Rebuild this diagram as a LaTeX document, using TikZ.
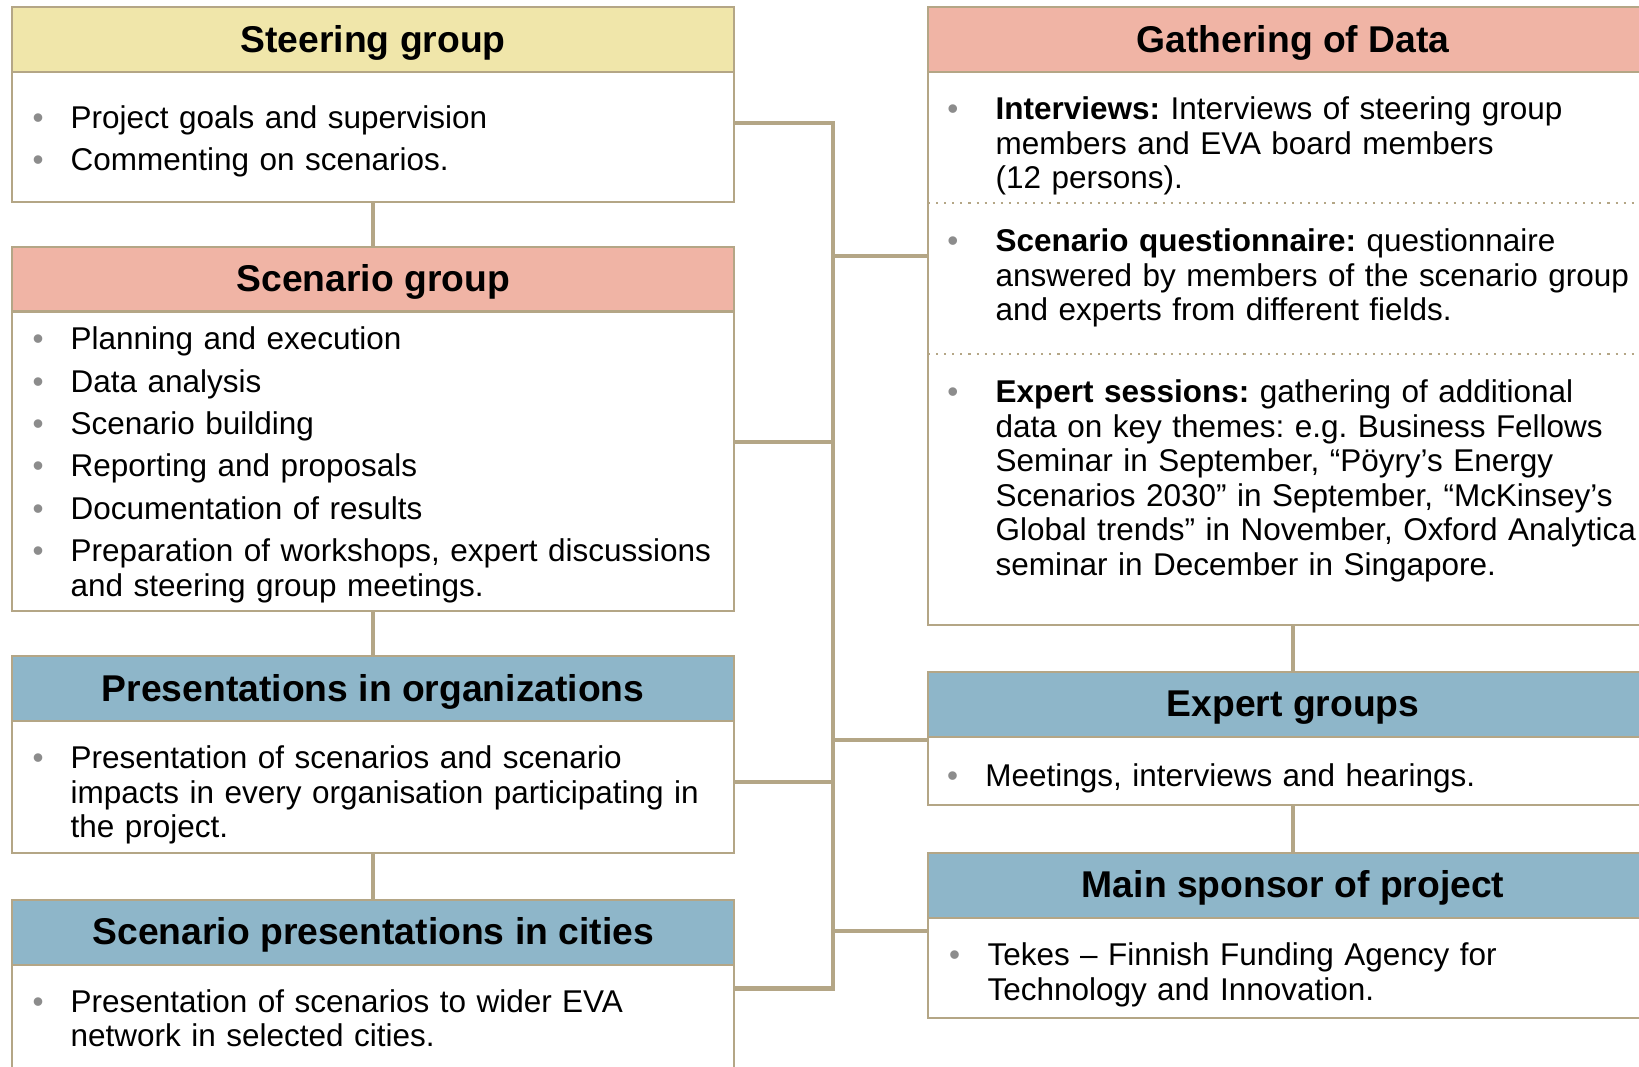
\documentclass[tikz,border=0pt]{standalone}
\usepackage{fontspec}
\setmainfont{Liberation Sans}
\usepackage{xcolor}
\usepackage{tikz}

\definecolor{steeryellow}{HTML}{F0E6AA}
\definecolor{scensalmon}{HTML}{F0B4A5}
\definecolor{presblue}{HTML}{8EB6C9}
\definecolor{linetan}{HTML}{B4A686}
\definecolor{bulletgray}{HTML}{8C8C8C}

\newcommand\titlefont{\fontsize{10.6pt}{12pt}\selectfont\bfseries}
\newcommand\bodyfont{\fontsize{8.95pt}{9.82pt}\selectfont}
\newlength\bind
% one bullet point, hanging indent for the wrapped lines
\newcommand\bitem[2][0.38cm]{%
  \setlength\bind{#1}\setlength\parskip{2.25pt}%
  \hangindent=\bind\hangafter=1\noindent
  \makebox[\bind][l]{\textcolor{bulletgray}{\textbullet}}#2\par}
\frenchspacing

\begin{document}
\begin{tikzpicture}[x=0.01cm,y=-0.01cm,
  headbox/.style={draw=linetan, line width=0.6pt, inner sep=0pt, outer sep=0pt, anchor=north,
    minimum height=0.648cm, text height=8.5pt, text depth=1.5pt, font=\titlefont},
  bodybox/.style={draw=linetan, line width=0.6pt, fill=white, inner sep=0pt, outer sep=0pt, anchor=north},
  leftcol/.style={minimum width=7.213cm},
  rightcol/.style={minimum width=7.298cm},
  itemlist/.style={anchor=base west, inner sep=0pt, text width=#1, align=left, font=\bodyfont},
  wire/.style={draw=linetan, line width=1.3pt},
  dotsep/.style={draw=linetan, line width=0.6pt, dash pattern=on 0.6pt off 1.7pt}]
\useasboundingbox (0,0) rectangle (1639,1066);
\clip (0,0) rectangle (1639,1066);

% left column
\node[headbox, leftcol, fill=steeryellow] (steerhead) at (373.15,7.3) {Steering group};
\node[bodybox, leftcol, minimum height=1.296cm] (steerbox) at (steerhead.south) {};
\node[itemlist=7.1cm] (steertxt) at (32,128)
  {\bitem{Project goals and supervision}\bitem{Commenting on scenarios.}};

\node[headbox, leftcol, fill=scensalmon] (scenhead) at (373.15,246.7) {Scenario group};
\node[bodybox, leftcol, minimum height=2.99cm] (scenbox) at (scenhead.south) {};
\node[itemlist=7.1cm] (scentxt) at (32,349.6)
  {\bitem{Planning and execution}\bitem{Data analysis}\bitem{Scenario building}%
   \bitem{Reporting and proposals}\bitem{Documentation of results}%
   \bitem{Preparation of workshops, expert discussions\newline and steering group meetings.}};

\node[headbox, leftcol, fill=presblue] (preshead) at (373.15,656.4) {Presentations in organizations};
\node[bodybox, leftcol, minimum height=1.317cm] (presbox) at (preshead.south) {};
\node[itemlist=7.1cm] (prestxt) at (32,768.5)
  {\bitem{Presentation of scenarios and scenario\newline impacts in every organisation participating in\newline the project.}};

\node[headbox, leftcol, fill=presblue] (cityhead) at (373.15,900) {Scenario presentations in cities};
\node[bodybox, leftcol, minimum height=1.5cm] (citybox) at (cityhead.south) {};
\node[itemlist=7.1cm] (citytxt) at (32,1012)
  {\bitem{Presentation of scenarios to wider EVA\newline network in selected cities.}};

% right column
\node[headbox, rightcol, fill=scensalmon] (gathhead) at (1293.1,7.3) {Gathering of Data};
\node[bodybox, rightcol, minimum height=5.529cm] (gathbox) at (gathhead.south) {};
\draw[dotsep] (gathbox.west |- 0,202.8) -- (gathbox.east |- 0,202.8);
\draw[dotsep] (gathbox.west |- 0,354.4) -- (gathbox.east |- 0,354.4);
\node[itemlist=8.5cm] (intvtxt) at (946.7,119.7)
  {\bitem[0.483cm]{\textbf{Interviews:} Interviews of steering group\newline members and EVA board members\newline (12 persons).}};
\node[itemlist=8.5cm] (questtxt) at (946.7,251.8)
  {\bitem[0.483cm]{\textbf{Scenario questionnaire:} questionnaire\newline answered by members of the scenario group\newline and experts from different fields.}};
\node[itemlist=8.5cm] (sesstxt) at (946.7,402.5)
  {\bitem[0.483cm]{\textbf{Expert sessions:} gathering of additional\newline data on key themes: e.g. Business Fellows\newline
   Seminar in September, “Pöyry’s Energy\newline Scenarios 2030” in September, “McKinsey’s\newline
   Global trends” in November, Oxford Analytica\newline seminar in December in Singapore.}};

\node[headbox, rightcol, fill=presblue] (experthead) at (1293.1,672) {Expert groups};
\node[bodybox, rightcol, minimum height=0.68cm] (expertbox) at (experthead.south) {};
\node[itemlist=8.5cm] (experttxt) at (946.4,786)
  {\bitem[0.383cm]{Meetings, interviews and hearings.}};

\node[headbox, rightcol, fill=presblue] (mainhead) at (1293.1,853) {Main sponsor of project};
\node[bodybox, rightcol, minimum height=1.002cm] (mainbox) at (mainhead.south) {};
\node[itemlist=8.5cm] (maintxt) at (948.4,965.5)
  {\bitem[0.384cm]{Tekes – Finnish Funding Agency for\newline Technology and Innovation.}};

% links down each column
\draw[wire] (steerbox) -- (scenhead);
\draw[wire] (scenbox) -- (preshead);
\draw[wire] (presbox) -- (cityhead);
\draw[wire] (gathbox) -- (experthead);
\draw[wire] (expertbox) -- (mainhead);

% trunk between the columns
\coordinate (jsteer) at (833,122.8);
\coordinate (jscen) at (833,442.2);
\coordinate (jpres) at (833,781.9);
\coordinate (jcity) at (833,988.6);
\coordinate (jgath) at (833,256.1);
\coordinate (jexpert) at (833,740);
\coordinate (jmain) at (833,930.8);
\draw[wire] (steerbox.east |- jsteer) -- (jsteer) -- (jcity) -- (citybox.east |- jcity);
\draw[wire] (scenbox.east |- jscen) -- (jscen);
\draw[wire] (presbox.east |- jpres) -- (jpres);
\draw[wire] (jgath) -- (gathbox.west |- jgath);
\draw[wire] (jexpert) -- (expertbox.west |- jexpert);
\draw[wire] (jmain) -- (mainbox.west |- jmain);
\end{tikzpicture}
\end{document}
